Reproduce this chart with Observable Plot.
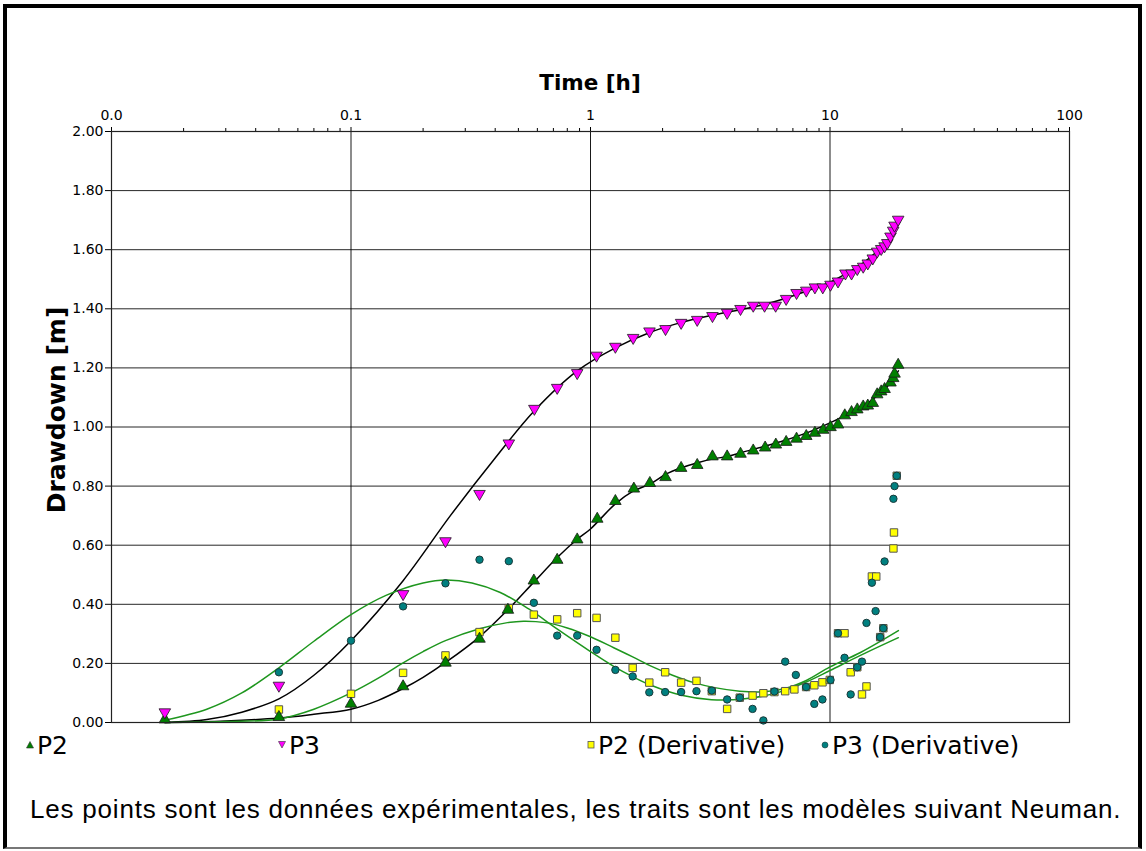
<!DOCTYPE html>
<html>
<head>
<meta charset="utf-8">
<script src="https://cdn.jsdelivr.net/npm/d3@7"></script>
<script src="https://cdn.jsdelivr.net/npm/@observablehq/plot@0.6"></script>
<style>
  html, body { margin: 0; padding: 0; background: #fff; width: 1146px; height: 851px; overflow: hidden; }
  #frame { position: absolute; left: 3px; top: 4px; width: 1131px; height: 839px; border: 4px solid #000; border-bottom: 2px solid #777; }
  #chart { position: absolute; left: 0; top: 0; }
  .title { position: absolute; font-family: "DejaVu Sans", Verdana, sans-serif; font-weight: bold; color: #000; white-space: nowrap; }
  #xtitle { left: 0; width: 1180px; text-align: center; top: 70px; font-size: 21.5px; }
  #ytitle { left: 56px; top: 410px; font-size: 25px; transform: translate(-50%, -50%) rotate(-90deg); }
  #legend { position: absolute; top: 729px; left: 0; width: 1146px; height: 32px; font-family: "DejaVu Sans", Verdana, sans-serif; font-size: 25px; color: #000; }
  .item { position: absolute; top: 0; white-space: nowrap; display: flex; align-items: center; height: 32px; }
  .item svg { margin-right: 1px; }
  #caption { position: absolute; left: 30px; top: 794px; font-family: "Liberation Sans", Arial, sans-serif; font-size: 26px; letter-spacing: 0.8px; color: #000; white-space: nowrap; }
</style>
</head>
<body>
<div id="frame"></div>
<div id="chart"></div>
<div id="xtitle" class="title">Time [h]</div>
<div id="ytitle" class="title">Drawdown [m]</div>
<div id="legend"></div>
<div id="caption">Les points sont les données expérimentales, les traits sont les modèles suivant Neuman.</div>
<script>
// ---------- data ----------
const xMajorTicks = [0.01, 0.1, 1, 10, 100];
const xMajorLabels = ["0.0", "0.1", "1", "10", "100"];
const xGridTicks = [0.1, 1, 10];
const xMinorTicks = [0.02,0.03,0.04,0.05,0.06,0.07,0.08,0.09,0.2,0.3,0.4,0.5,0.6,0.7,0.8,0.9,2,3,4,5,6,7,8,9,20,30,40,50,60,70,80,90];
const yTicks = [0, 0.2, 0.4, 0.6, 0.8, 1.0, 1.2, 1.4, 1.6, 1.8, 2.0];

const seriesNames = ["P2", "P3", "P2 (Derivative)", "P3 (Derivative)"];

const p2Time = [0.0167,0.05,0.1,0.165,0.248,0.344,0.452,0.58,0.726,0.88,1.067,1.27,1.517,1.769,2.057,2.39,2.79,3.23,3.72,4.23,4.78,5.36,5.94,6.56,7.25,7.96,8.65,9.37,10.05,10.8,11.53,12.3,13.0,13.76,14.38,15.09,15.74,16.36,16.9,17.89,18.36,18.6,19.26];
const p2Drawdown = [0.01,0.018,0.063,0.122,0.202,0.283,0.381,0.48,0.55,0.619,0.689,0.749,0.791,0.81,0.83,0.861,0.871,0.90,0.90,0.909,0.92,0.93,0.94,0.949,0.96,0.969,0.98,0.99,0.999,1.008,1.039,1.05,1.059,1.069,1.072,1.081,1.11,1.12,1.128,1.15,1.165,1.18,1.21];

const p3Time = [0.0167,0.05,0.165,0.248,0.344,0.456,0.583,0.726,0.88,1.06,1.27,1.507,1.763,2.057,2.39,2.79,3.23,3.72,4.23,4.78,5.33,5.93,6.56,7.25,7.96,8.65,9.33,10.05,10.8,11.6,12.3,13.0,13.76,14.38,15.09,15.74,16.36,16.9,17.35,17.89,18.36,18.6,19.26];
const p3Drawdown = [0.035,0.125,0.435,0.614,0.774,0.945,1.062,1.133,1.183,1.242,1.272,1.302,1.324,1.332,1.353,1.363,1.376,1.387,1.40,1.411,1.411,1.411,1.434,1.454,1.462,1.473,1.473,1.482,1.493,1.52,1.52,1.535,1.543,1.554,1.571,1.594,1.603,1.612,1.623,1.645,1.665,1.682,1.702];

const p2dTime = [0.05,0.1,0.165,0.248,0.344,0.456,0.58,0.726,0.88,1.06,1.27,1.5,1.76,2.05,2.39,2.77,3.21,3.72,4.2,4.75,5.27,5.86,6.5,7.1,7.95,8.6,9.3,9.98,10.8,11.5,12.2,13.0,13.6,14.2,14.96,15.6,16.2,16.7,18.4,18.5,19.0];
const p2dValue = [0.044,0.097,0.168,0.227,0.306,0.387,0.365,0.349,0.37,0.354,0.287,0.185,0.135,0.17,0.135,0.141,0.106,0.046,0.084,0.091,0.099,0.103,0.106,0.112,0.12,0.126,0.136,0.144,0.302,0.302,0.17,0.187,0.095,0.122,0.494,0.494,0.289,0.319,0.589,0.643,0.835];

const p3dTime = [0.05,0.1,0.165,0.248,0.344,0.456,0.58,0.726,0.88,1.06,1.27,1.5,1.76,2.05,2.39,2.77,3.21,3.72,4.2,4.75,5.27,5.86,6.5,7.2,7.95,8.6,9.3,10.05,10.8,11.5,12.2,13.0,13.6,14.2,14.96,15.5,16.2,16.7,16.9,18.4,18.6,19.0];
const p3dValue = [0.17,0.277,0.393,0.471,0.551,0.546,0.405,0.294,0.294,0.246,0.178,0.156,0.102,0.103,0.103,0.106,0.108,0.078,0.084,0.046,0.007,0.105,0.206,0.161,0.12,0.063,0.078,0.144,0.302,0.219,0.095,0.187,0.206,0.337,0.473,0.377,0.289,0.319,0.545,0.757,0.80,0.835];

// model curves (Neuman)
const p2ModelTime = [0.0167,0.03,0.05,0.07,0.1,0.13,0.165,0.2,0.25,0.344,0.456,0.58,0.73,0.88,1.0,1.27,1.5,1.78,2.06,2.4,2.8,3.3,3.72,4.2,5.3,6.5,8,10,12,14,16,17.5,18.6,19.3];
const p2ModelValue = [0.0,0.005,0.015,0.028,0.045,0.075,0.115,0.153,0.205,0.29,0.385,0.475,0.56,0.62,0.655,0.74,0.782,0.808,0.84,0.862,0.879,0.893,0.9,0.912,0.934,0.955,0.98,1.014,1.045,1.075,1.11,1.14,1.17,1.19];

const p3ModelTime = [0.0167,0.025,0.035,0.05,0.07,0.1,0.165,0.26,0.4,0.583,0.88,1.27,1.77,2.4,3.3,4.2,5.3,6.5,8,10,12,14,16,17.5,18.6,19.3];
const p3ModelValue = [0.0,0.01,0.035,0.08,0.16,0.277,0.48,0.70,0.895,1.055,1.19,1.268,1.32,1.354,1.38,1.397,1.415,1.435,1.46,1.49,1.525,1.56,1.6,1.63,1.665,1.69];

const p2dModelTime = [0.0167,0.03,0.05,0.07,0.1,0.13,0.165,0.2,0.248,0.344,0.45,0.525,0.65,0.8,1.0,1.25,1.5,1.8,2.2,2.7,3.3,4.2,5.3,6.5,8,10,13.4,19.3];
const p2dModelValue = [0.0,0.003,0.012,0.045,0.1,0.15,0.202,0.24,0.277,0.317,0.338,0.343,0.338,0.32,0.29,0.253,0.222,0.19,0.16,0.135,0.118,0.106,0.104,0.115,0.143,0.188,0.237,0.311];

const p3dModelTime = [0.0167,0.025,0.035,0.05,0.07,0.1,0.14,0.2,0.25,0.32,0.42,0.55,0.73,1.0,1.25,1.5,1.8,2.4,3.2,4.4,6.1,8,10,13.4,19.3];
const p3dModelValue = [0.008,0.045,0.1,0.185,0.275,0.365,0.43,0.472,0.482,0.472,0.44,0.385,0.315,0.24,0.19,0.155,0.125,0.092,0.077,0.08,0.102,0.138,0.176,0.227,0.287];

// ---------- styles ----------
const colors = { p2: "#008000", p3: "#ff00ff", p2d: "#ffff00", p3d: "#008080", model: "#000000", dmodel: "#1e961e" };

const zip = (xs, ys) => xs.map((x, i) => ({x, y: ys[i]}));

const triDown = {
  draw(context, size) {
    const y = -Math.sqrt(size / (Math.sqrt(3) * 3));
    const s = Math.sqrt(3);
    context.moveTo(0, -2 * y);
    context.lineTo(-s * y, y);
    context.lineTo(s * y, y);
    context.closePath();
  }
};

const chart = Plot.plot({
  width: 1146,
  height: 740,
  marginLeft: 111,
  marginRight: 77,
  marginTop: 131,
  marginBottom: 18,
  style: { fontFamily: "'DejaVu Sans', Verdana, sans-serif", fontSize: "14px", color: "#000", background: "transparent" },
  x: { type: "log", domain: [0.01, 100] },
  y: { domain: [0, 2] },
  marks: [
    Plot.gridY(yTicks, { stroke: "#000", strokeOpacity: 0.85 }),
    Plot.gridX(xGridTicks, { stroke: "#000", strokeOpacity: 0.9 }),
    Plot.axisX({ anchor: "top", ticks: xMinorTicks, tickFormat: () => "", tickSize: 4, label: null }),
    Plot.axisX({ anchor: "top", ticks: xMajorTicks, tickFormat: d => xMajorLabels[xMajorTicks.indexOf(d)], tickSize: 5, tickPadding: 7, label: null, fontSize: 14 }),
    Plot.axisY({ ticks: yTicks, tickFormat: d => d.toFixed(2), tickSize: 6, tickPadding: 2, label: null, fontSize: 14 }),
    Plot.line(zip(p2ModelTime, p2ModelValue), { x: "x", y: "y", stroke: colors.model, strokeWidth: 1.5, curve: "catmull-rom" }),
    Plot.line(zip(p3ModelTime, p3ModelValue), { x: "x", y: "y", stroke: colors.model, strokeWidth: 1.5, curve: "catmull-rom" }),
    Plot.line(zip(p2dModelTime, p2dModelValue), { x: "x", y: "y", stroke: colors.dmodel, strokeWidth: 1.5, curve: "catmull-rom" }),
    Plot.line(zip(p3dModelTime, p3dModelValue), { x: "x", y: "y", stroke: colors.dmodel, strokeWidth: 1.5, curve: "catmull-rom" }),
    Plot.dot(zip(p2dTime, p2dValue), { x: "x", y: "y", symbol: "square", r: 4.2, fill: colors.p2d, stroke: "#555", strokeWidth: 1 }),
    Plot.dot(zip(p3dTime, p3dValue), { x: "x", y: "y", symbol: "circle", r: 3.7, fill: colors.p3d, stroke: "#1a3a3a", strokeWidth: 1 }),
    Plot.dot(zip(p2Time, p2Drawdown), { x: "x", y: "y", symbol: "triangle", r: 4.3, fill: colors.p2, stroke: "#1a1a1a", strokeWidth: 0.8 }),
    Plot.dot(zip(p3Time, p3Drawdown), { x: "x", y: "y", symbol: triDown, r: 4.3, fill: colors.p3, stroke: "#1a1a1a", strokeWidth: 0.8 }),
    Plot.frame({ stroke: "#222", strokeWidth: 1.2 })
  ]
});
document.getElementById("chart").appendChild(chart);

// ---------- legend ----------
const legendSpec = [
  { name: seriesNames[0], left: 24, kind: "tri", fill: colors.p2 },
  { name: seriesNames[1], left: 276, kind: "triDown", fill: colors.p3 },
  { name: seriesNames[2], left: 585, kind: "square", fill: colors.p2d },
  { name: seriesNames[3], left: 819, kind: "circle", fill: colors.p3d }
];
const legend = document.getElementById("legend");
for (const it of legendSpec) {
  const div = document.createElement("div");
  div.className = "item";
  div.style.left = it.left + "px";
  let shape;
  if (it.kind === "tri") shape = `<polygon points="6,3.5 9.5,10 2.5,10" fill="${it.fill}" stroke="#333" stroke-width="0.6"/>`;
  else if (it.kind === "triDown") shape = `<polygon points="2.5,3.5 9.5,3.5 6,10" fill="${it.fill}" stroke="#333" stroke-width="0.6"/>`;
  else if (it.kind === "square") shape = `<rect x="3" y="3.5" width="6" height="6.5" fill="${it.fill}" stroke="#555" stroke-width="0.8"/>`;
  else shape = `<circle cx="6" cy="7" r="3" fill="${it.fill}" stroke="#1a3a3a" stroke-width="0.6"/>`;
  div.innerHTML = `<svg width="12" height="14" viewBox="0 0 12 14">${shape}</svg><span>${it.name}</span>`;
  legend.appendChild(div);
}
</script>
</body>
</html>
